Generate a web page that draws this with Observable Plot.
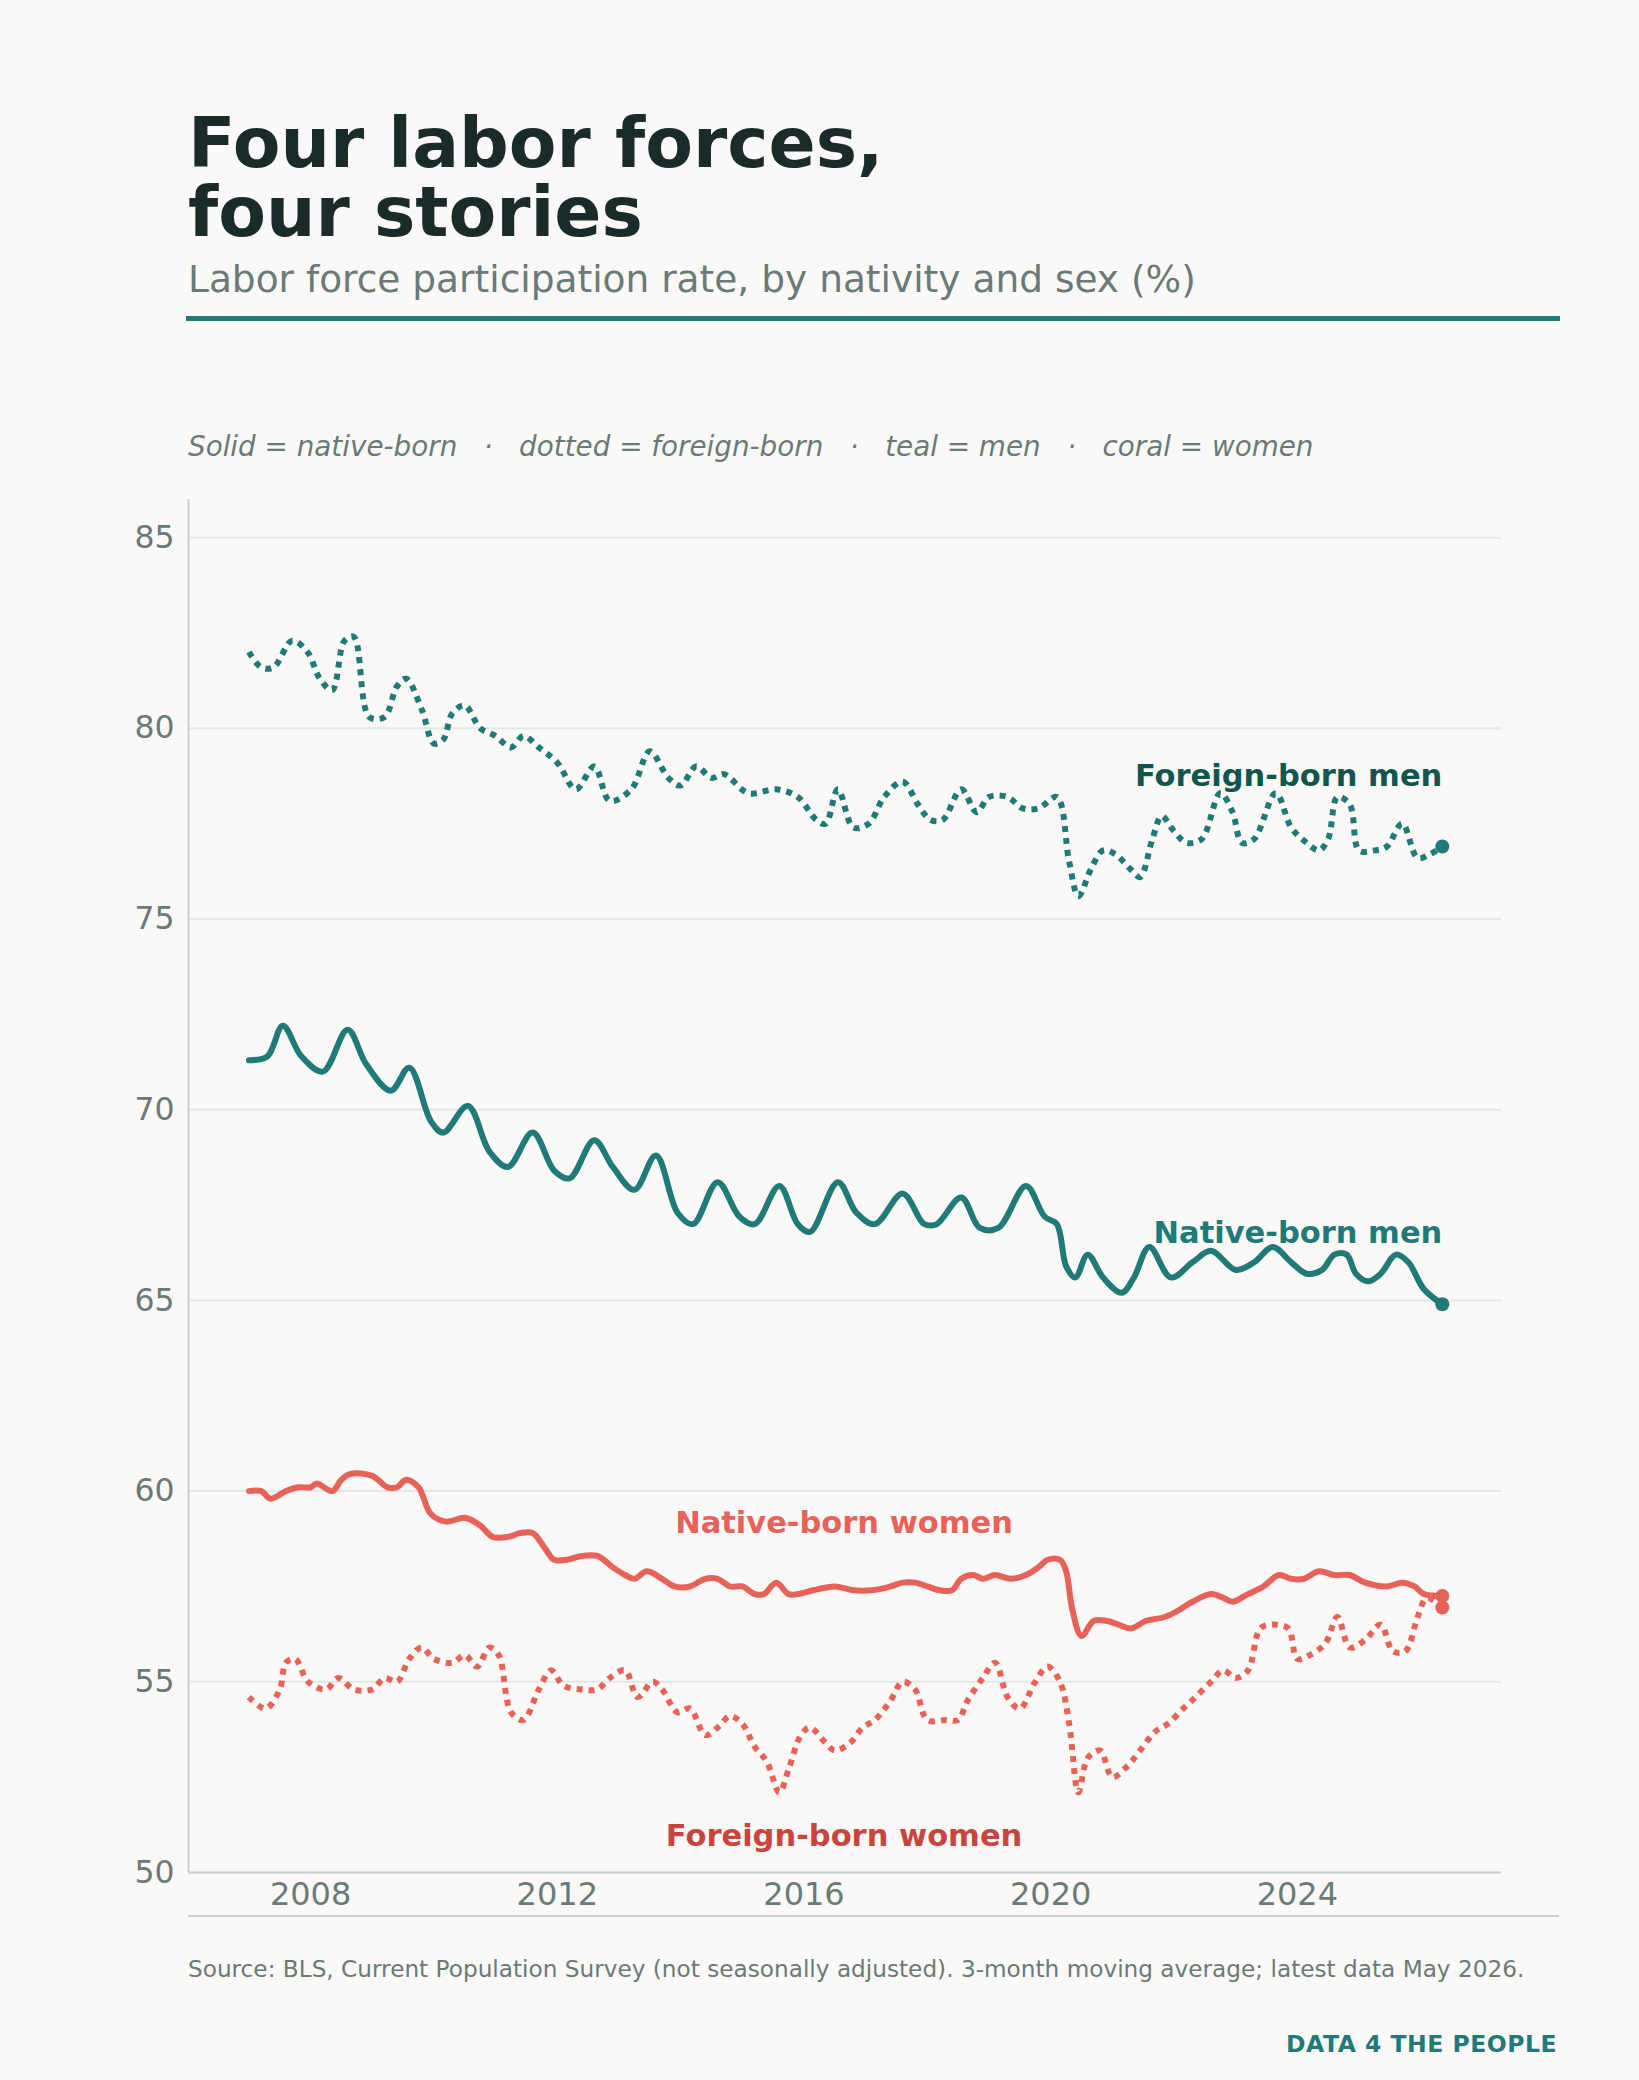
<!DOCTYPE html>
<html><head><meta charset="utf-8">
<script src="https://cdn.jsdelivr.net/npm/d3@7"></script>
<script src="https://cdn.jsdelivr.net/npm/@observablehq/plot@0.6"></script>
<style>
body{margin:0;background:#faf9f7;font-family:"DejaVu Sans",sans-serif;}
#page{position:relative;width:1639px;height:2080px;background:#faf9f7;}
.t{position:absolute;line-height:1;white-space:pre;}
</style></head><body><div id="page">
<div class="t" style="left:188px;top:108px;font-size:69.5px;line-height:69px;font-weight:bold;color:#1b2b2a">Four labor forces,<br>four stories</div>
<div class="t" style="left:188px;top:261px;font-size:37.5px;color:#6b7a76">Labor force participation rate, by nativity and sex (%)</div>
<div style="position:absolute;left:186px;top:316px;width:1374px;height:5px;background:#1f7a78"></div>
<div class="t" style="left:188px;top:433px;font-size:27.8px;font-style:italic;color:#6b7a76">Solid = native-born   ·   dotted = foreign-born   ·   teal = men   ·   coral = women</div>
<div id="chart" style="position:absolute;left:0;top:480px"></div>
<div style="position:absolute;left:188px;top:1915px;width:1371px;height:2px;background:#c9d2cf"></div>
<div class="t" style="left:188px;top:1957px;font-size:23.2px;color:#6b7a76">Source: BLS, Current Population Survey (not seasonally adjusted). 3-month moving average; latest data May 2026.</div>
<div class="t" style="right:82px;top:2033px;font-size:23.5px;font-weight:bold;color:#1f7a78;letter-spacing:0.5px">DATA 4 THE PEOPLE</div>
</div>
<script>
const nbmX=[2007.0,2007.3,2007.55,2007.85,2008.2,2008.6,2008.9,2009.3,2009.6,2009.95,2010.15,2010.55,2010.9,2011.2,2011.6,2011.95,2012.2,2012.6,2012.9,2013.25,2013.6,2013.95,2014.2,2014.6,2014.95,2015.2,2015.6,2015.9,2016.1,2016.55,2016.85,2017.15,2017.6,2017.95,2018.15,2018.55,2018.85,2019.15,2019.6,2019.9,2020.1,2020.25,2020.4,2020.6,2020.85,2021.15,2021.35,2021.6,2021.95,2022.3,2022.6,2023.0,2023.3,2023.6,2023.9,2024.15,2024.4,2024.6,2024.8,2024.95,2025.15,2025.35,2025.6,2025.8,2026.05,2026.35];
const nbmY=[71.3,71.4,72.2,71.4,71.0,72.1,71.2,70.5,71.1,69.7,69.4,70.1,68.9,68.5,69.4,68.4,68.2,69.2,68.5,67.9,68.8,67.3,67.0,68.1,67.2,67.0,68.0,67.0,66.8,68.1,67.3,67.0,67.8,67.0,67.0,67.7,66.9,66.9,68.0,67.2,67.0,65.9,65.6,66.2,65.6,65.2,65.6,66.4,65.6,66.0,66.3,65.8,66.0,66.4,66.0,65.7,65.8,66.2,66.2,65.7,65.5,65.7,66.2,66.0,65.3,64.9];
const fbmX=[2007.0,2007.2,2007.4,2007.7,2007.95,2008.15,2008.35,2008.55,2008.7,2008.95,2009.2,2009.4,2009.55,2009.8,2010.0,2010.15,2010.3,2010.5,2010.75,2011.0,2011.25,2011.45,2011.7,2012.0,2012.3,2012.6,2012.85,2013.2,2013.5,2013.8,2014.0,2014.25,2014.5,2014.7,2015.1,2015.55,2015.9,2016.2,2016.35,2016.55,2016.8,2017.05,2017.3,2017.6,2017.85,2018.05,2018.25,2018.55,2018.8,2019.0,2019.3,2019.55,2019.8,2020.1,2020.3,2020.45,2020.65,2020.85,2021.05,2021.3,2021.45,2021.65,2021.8,2022.0,2022.2,2022.45,2022.75,2022.95,2023.1,2023.3,2023.65,2023.9,2024.15,2024.35,2024.5,2024.65,2024.85,2025.0,2025.25,2025.45,2025.7,2025.95,2026.15,2026.35];
const fbmY=[82.0,81.6,81.6,82.3,82.0,81.3,81.0,82.3,82.4,80.3,80.3,81.1,81.3,80.5,79.6,79.7,80.4,80.6,80.0,79.8,79.5,79.8,79.5,79.1,78.4,79.0,78.1,78.4,79.4,78.7,78.5,79.0,78.7,78.8,78.3,78.4,78.2,77.6,77.5,78.4,77.4,77.5,78.2,78.6,78.0,77.6,77.6,78.4,77.8,78.2,78.2,77.9,77.9,78.2,76.5,75.6,76.3,76.8,76.7,76.3,76.1,77.1,77.7,77.3,77.0,77.1,78.3,77.8,77.0,77.1,78.3,77.4,77.0,76.8,77.1,78.2,78.0,76.8,76.8,76.9,77.5,76.6,76.7,76.9];
const nbwX=[2007.0,2007.2,2007.35,2007.6,2007.8,2008.0,2008.1,2008.35,2008.5,2008.65,2009.0,2009.25,2009.4,2009.55,2009.75,2009.95,2010.2,2010.5,2010.75,2010.95,2011.2,2011.4,2011.6,2011.8,2011.95,2012.15,2012.4,2012.65,2012.9,2013.1,2013.25,2013.45,2013.7,2013.9,2014.15,2014.4,2014.6,2014.8,2015.0,2015.2,2015.35,2015.55,2015.75,2015.9,2016.15,2016.5,2016.8,2017.1,2017.4,2017.6,2017.8,2018.0,2018.2,2018.4,2018.55,2018.75,2018.9,2019.1,2019.35,2019.6,2019.8,2019.95,2020.15,2020.25,2020.35,2020.5,2020.7,2020.9,2021.1,2021.3,2021.55,2021.85,2022.1,2022.3,2022.6,2022.8,2022.95,2023.2,2023.45,2023.7,2023.9,2024.1,2024.35,2024.6,2024.85,2025.1,2025.45,2025.7,2025.9,2026.05,2026.35];
const nbwY=[60.0,60.0,59.8,60.0,60.1,60.1,60.2,60.0,60.3,60.45,60.4,60.1,60.1,60.3,60.1,59.4,59.2,59.3,59.1,58.8,58.8,58.9,58.9,58.5,58.2,58.2,58.3,58.3,58.0,57.8,57.7,57.9,57.7,57.5,57.5,57.7,57.7,57.5,57.5,57.3,57.3,57.6,57.3,57.3,57.4,57.5,57.4,57.4,57.5,57.6,57.6,57.5,57.4,57.4,57.7,57.8,57.7,57.8,57.7,57.8,58.0,58.2,58.2,57.9,56.9,56.2,56.6,56.6,56.5,56.4,56.6,56.7,56.9,57.1,57.3,57.2,57.1,57.3,57.5,57.8,57.7,57.7,57.9,57.8,57.8,57.6,57.5,57.6,57.5,57.3,57.25];
const fbwX=[2007.0,2007.27,2007.5,2007.6,2007.75,2007.96,2008.25,2008.45,2008.7,2009.0,2009.2,2009.4,2009.6,2009.8,2010.0,2010.3,2010.5,2010.7,2010.9,2011.05,2011.25,2011.45,2011.7,2011.9,2012.1,2012.4,2012.65,2012.85,2013.1,2013.3,2013.55,2013.7,2013.95,2014.15,2014.4,2014.6,2014.8,2015.0,2015.2,2015.4,2015.6,2015.75,2015.95,2016.1,2016.35,2016.5,2016.75,2016.95,2017.15,2017.4,2017.6,2017.8,2018.0,2018.3,2018.5,2018.65,2018.9,2019.1,2019.3,2019.5,2019.75,2019.95,2020.15,2020.3,2020.45,2020.6,2020.8,2021.0,2021.25,2021.45,2021.7,2021.9,2022.15,2022.35,2022.6,2022.8,2023.0,2023.2,2023.4,2023.6,2023.85,2024.0,2024.2,2024.45,2024.65,2024.85,2025.1,2025.35,2025.55,2025.75,2025.95,2026.1,2026.35];
const fbwY=[54.6,54.3,54.8,55.5,55.6,55.0,54.8,55.1,54.8,54.8,55.1,55.0,55.6,55.9,55.6,55.5,55.7,55.4,55.9,55.7,54.2,54.0,54.8,55.3,54.9,54.8,54.8,55.1,55.3,54.6,55.0,54.8,54.2,54.3,53.6,53.8,54.1,53.9,53.3,52.9,52.1,52.7,53.6,53.8,53.4,53.2,53.4,53.8,54.0,54.5,55.0,54.8,54.0,54.0,54.0,54.5,55.1,55.5,54.6,54.3,55.0,55.4,55.0,53.9,52.1,53.0,53.2,52.5,52.8,53.2,53.7,53.9,54.3,54.6,55.0,55.3,55.1,55.3,56.4,56.5,56.4,55.6,55.7,56.0,56.7,55.9,56.1,56.5,55.8,55.8,56.7,57.2,56.95];
const yTicks=[50,55,60,65,70,75,80,85];
const xTicks=[2008,2012,2016,2020,2024];

const TEAL="#1f7a78", CORAL="#e8625a";
const series=[
 {name:"nbm",xs:nbmX,ys:nbmY,color:TEAL,dash:null},
 {name:"fbm",xs:fbmX,ys:fbmY,color:TEAL,dash:"6,6"},
 {name:"nbw",xs:nbwX,ys:nbwY,color:CORAL,dash:null},
 {name:"fbw",xs:fbwX,ys:fbwY,color:CORAL,dash:"6,6"}
];
const lineMarks=[], dots=[];
for(const s of series){
  const d=s.xs.map((x,i)=>({x,y:s.ys[i]}));
  const opts={x:"x",y:"y",stroke:s.color,strokeWidth:6,curve:"catmull-rom"};
  if(s.dash){opts.strokeDasharray=s.dash;opts.strokeLinecap="butt";}
  lineMarks.push(Plot.line(d,opts));
  dots.push(Plot.dot([d[d.length-1]],{x:"x",y:"y",r:7,fill:s.color}));
}
const labels=[
 {x:2026.35,y:78.75,t:"Foreign-born men",c:"#0f5650",a:"end"},
 {x:2026.35,y:66.75,t:"Native-born men",c:TEAL,a:"end"},
 {x:2016.65,y:59.15,t:"Native-born women",c:CORAL,a:"middle"},
 {x:2016.65,y:50.95,t:"Foreign-born women",c:"#c9443d",a:"middle"}
];
const chart=Plot.plot({
  width:1639,height:1460,
  marginLeft:188,marginRight:138,marginTop:19,marginBottom:68,
  style:{background:"transparent",fontFamily:"DejaVu Sans, sans-serif"},
  x:{domain:[2006.02,2027.31]},
  y:{domain:[50,86]},
  marks:[
    Plot.ruleY(yTicks,{stroke:"#e1e8e5",strokeWidth:2}),
    Plot.ruleY([50],{stroke:"#c9d2cf",strokeWidth:2}),
    Plot.ruleX([2006.02],{y1:50,y2:86,stroke:"#c9d2cf",strokeWidth:2}),
    Plot.axisY({ticks:yTicks,tickSize:0,tickPadding:14,fontSize:31.5,fill:"#6b7a76",label:null}),
    Plot.axisX({ticks:xTicks,tickFormat:d=>String(d),tickSize:0,tickPadding:10,fontSize:32,fill:"#6b7a76",label:null}),
    ...lineMarks,
    ...dots,
    ...labels.map(l=>Plot.text([l],{x:"x",y:"y",text:"t",fill:l.c,textAnchor:l.a,fontSize:30.5,fontWeight:"bold"}))
  ]
});
document.getElementById("chart").appendChild(chart);
</script></body></html>
